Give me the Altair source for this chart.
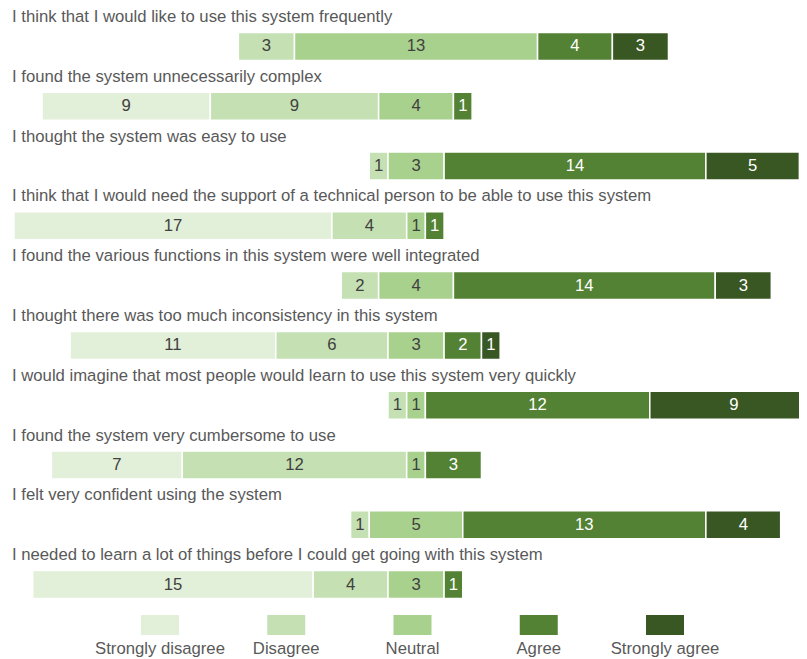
import altair as alt
import pandas as pd

questions = [
    "I think that I would like to use this system frequently",
    "I found the system unnecessarily complex",
    "I thought the system was easy to use",
    "I think that I would need the support of a technical person to be able to use this system",
    "I found the various functions in this system were well integrated",
    "I thought there was too much inconsistency in this system",
    "I would imagine that most people would learn to use this system very quickly",
    "I found the system very cumbersome to use",
    "I felt very confident using the system",
    "I needed to learn a lot of things before I could get going with this system",
]
categories = ["Strongly disagree", "Disagree", "Neutral", "Agree", "Strongly agree"]
strongly_disagree = [0, 9, 0, 17, 0, 11, 0, 7, 0, 15]
disagree = [3, 9, 1, 4, 2, 6, 1, 12, 1, 4]
neutral = [13, 4, 3, 1, 4, 3, 1, 1, 5, 3]
agree = [4, 1, 14, 1, 14, 2, 12, 3, 13, 1]
strongly_agree = [3, 0, 5, 0, 3, 1, 9, 0, 4, 0]
colors = ["#e2efd9", "#c5e0b3", "#a9d18e", "#548235", "#385723"]
text_colors = ["#404040", "#404040", "#404040", "#ffffff", "#ffffff"]

series = [strongly_disagree, disagree, neutral, agree, strongly_agree]
rows = []
for i, q in enumerate(questions):
    counts = [s[i] for s in series]
    pos = -(counts[0] + counts[1] + counts[2] / 2)
    for j, c in enumerate(counts):
        if c > 0:
            rows.append({"question": q, "category": categories[j], "count": c,
                         "start": pos, "end": pos + c, "mid": pos + c / 2,
                         "tc": text_colors[j]})
        pos += c
df = pd.DataFrame(rows)
qdf = pd.DataFrame({"question": questions})
ldf = pd.DataFrame({"category": categories})

FONT = "Liberation Sans"
FS = 16.7
W = 791
yenc = alt.Y("question:N", sort=questions, axis=None,
             scale=alt.Scale(paddingInner=0, paddingOuter=0))
xscale = alt.Scale(domain=[-21.82, 20.48], nice=False, zero=False)
cscale = alt.Scale(domain=categories, range=colors)

bars = alt.Chart(df).mark_bar(size=28, yOffset=7.5, stroke="white", strokeWidth=1.5, clip=True).encode(
    x=alt.X("start:Q", scale=xscale, axis=None),
    x2="end:Q",
    y=yenc,
    fill=alt.Fill("category:N", scale=cscale, legend=None),
)
nums = alt.Chart(df).mark_text(font=FONT, fontSize=FS, dy=7.5).encode(
    x=alt.X("mid:Q", scale=xscale, axis=None),
    y=yenc,
    text="count:Q",
    color=alt.Color("tc:N", scale=None, legend=None),
)
labels = alt.Chart(qdf).mark_text(font=FONT, fontSize=FS, align="left", dy=-22, color="#595959").encode(
    x=alt.value(4),
    y=yenc,
    text="question:N",
)
main = alt.layer(bars, nums, labels).properties(width=W, height=598)

lx = alt.X("category:N", sort=categories, axis=None, scale=alt.Scale(range=[152, 657], padding=0))
swatch = alt.Chart(ldf).mark_point(shape="M-1,-0.526H1V0.526H-1Z", size=1444, filled=True, opacity=1, strokeWidth=0).encode(
    x=lx,
    y=alt.value(18),
    fill=alt.Fill("category:N", scale=cscale, legend=None),
)
ltext = alt.Chart(ldf).mark_text(font=FONT, fontSize=FS, color="#595959").encode(
    x=lx,
    y=alt.value(42),
    text="category:N",
)
legend = alt.layer(swatch, ltext).properties(width=W, height=45)

chart = alt.vconcat(main, legend, spacing=0).properties(
    padding={"left": 0, "right": 0, "top": 0, "bottom": 0}
).configure_view(stroke=None)

chart.save("out.html", embed_options={"renderer": "svg", "actions": False})
